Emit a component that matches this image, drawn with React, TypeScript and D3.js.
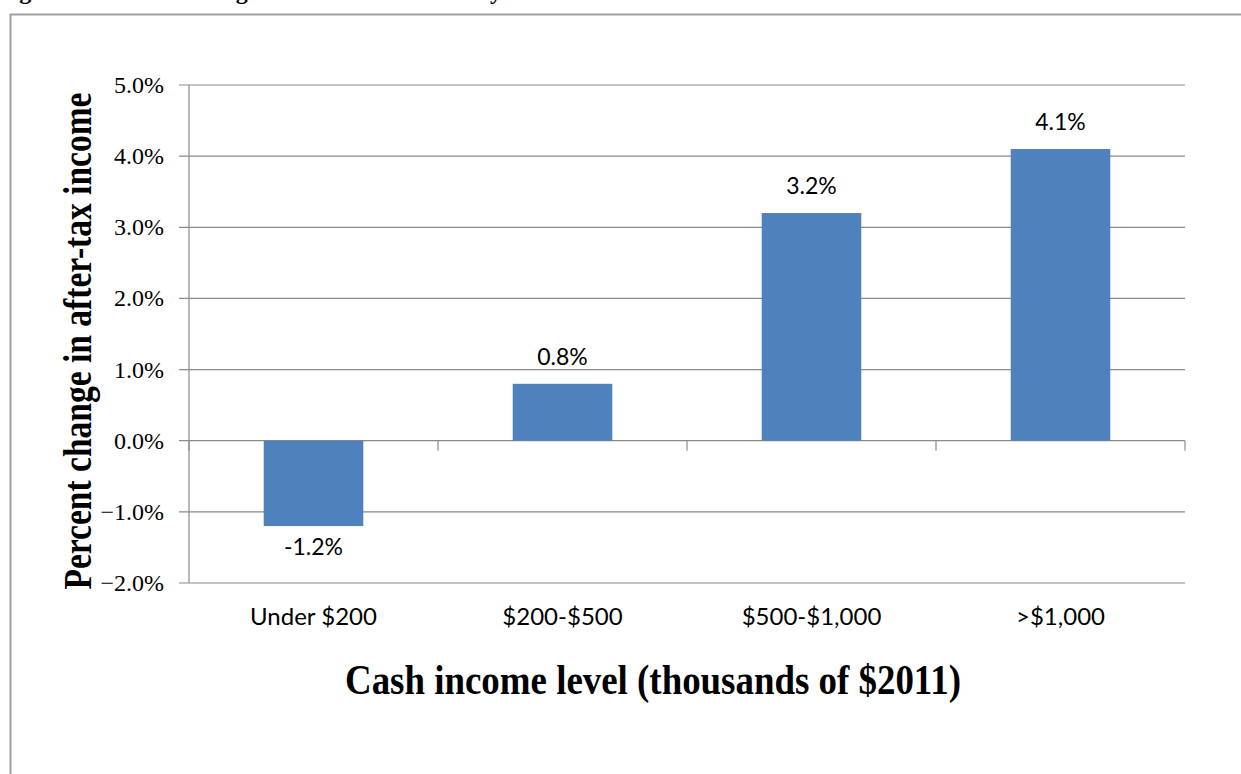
import React from "react";
import * as d3 from "d3";

const categories = ["Under $200", "$200-$500", "$500-$1,000", ">$1,000"];
const values = [-1.2, 0.8, 3.2, 4.1];
const valueLabels = ["-1.2%", "0.8%", "3.2%", "4.1%"];
const yTicks = [-2, -1, 0, 1, 2, 3, 4, 5];
const titleText = "Figure 1. Percent Change in After-Tax Income by Cash Income Level";
const yAxisTitle = "Percent change in after-tax income";
const xAxisTitle = "Cash income level (thousands of $2011)";

const W = 1241;
const H = 774;
const plotLeft = 189;
const plotRight = 1185;
const plotTop = 85;
const plotBottom = 583;

export default function App() {
  const x = d3
    .scaleBand<string>()
    .domain(categories)
    .range([plotLeft, plotRight])
    .paddingInner(0.6)
    .paddingOuter(0.3);
  const y = d3.scaleLinear().domain([-2, 5]).range([plotBottom, plotTop]);
  const step = x.step();
  const y0 = y(0);
  const boundaries = d3.range(categories.length + 1).map((i) => plotLeft + i * step);
  const grid = "#8a8a8a";

  return (
    <svg
      width={W}
      height={H}
      viewBox={`0 0 ${W} ${H}`}
      style={{ position: "absolute", left: 0, top: 0, background: "#fff" }}
    >
      <rect x={0} y={0} width={W} height={H} fill="#fff" />
      <text
        x={-2}
        y={-1}
        fontFamily="'Liberation Serif', serif"
        fontWeight="bold"
        fontSize={24}
        fill="#000"
      >
        {titleText}
      </text>
      <rect x={10.5} y={14.5} width={1400} height={1000} fill="none" stroke="#a0a0a0" strokeWidth={2} />

      {/* gridlines */}
      {yTicks.map((t) => (
        <line key={"g" + t} x1={plotLeft - 10} x2={plotRight} y1={y(t)} y2={y(t)} stroke={grid} strokeWidth={1.2} />
      ))}
      {/* y axis */}
      <line x1={plotLeft} x2={plotLeft} y1={plotTop} y2={plotBottom} stroke={grid} strokeWidth={1.2} />
      {/* x tick marks at category boundaries */}
      {boundaries.map((bx, i) => (
        <line key={"xt" + i} x1={bx} x2={bx} y1={y0} y2={y0 + 10} stroke={grid} strokeWidth={1.2} />
      ))}

      {/* y tick labels */}
      {yTicks.map((t) => (
        <text
          key={"yl" + t}
          x={164}
          y={y(t) + 8}
          textAnchor="end"
          fontFamily="'Liberation Serif', serif"
          fontSize={24}
          fill="#000"
        >
          {d3.format(".1f")(t) + "%"}
        </text>
      ))}

      {/* bars */}
      {categories.map((c, i) => {
        const v = values[i];
        const top = y(Math.max(0, v));
        const bottom = y(Math.min(0, v));
        return (
          <rect key={"b" + c} x={x(c)} y={top} width={x.bandwidth()} height={bottom - top} fill="#4F81BD" />
        );
      })}

      {/* data labels */}
      {categories.map((c, i) => {
        const v = values[i];
        const cx = (x(c) as number) + x.bandwidth() / 2;
        const ly = v >= 0 ? y(v) - 19 : y(v) + 29;
        return (
          <text
            key={"dl" + c}
            x={cx}
            y={ly}
            textAnchor="middle"
            fontFamily="Lato, 'Open Sans', sans-serif"
            fontSize={23}
            fill="#000"
          >
            {valueLabels[i]}
          </text>
        );
      })}

      {/* category labels */}
      {categories.map((c) => (
        <text
          key={"cl" + c}
          x={(x(c) as number) + x.bandwidth() / 2}
          y={625}
          textAnchor="middle"
          fontFamily="Lato, 'Open Sans', sans-serif"
          fontSize={24}
          fill="#000"
        >
          {c}
        </text>
      ))}

      {/* axis titles */}
      <text
        transform={`translate(91, 341) rotate(-90)`}
        textAnchor="middle"
        fontFamily="'Liberation Serif', serif"
        fontWeight="bold"
        fontSize={41}
        textLength={497}
        lengthAdjust="spacingAndGlyphs"
        fill="#000"
      >
        {yAxisTitle}
      </text>
      <text
        x={653}
        y={694}
        textAnchor="middle"
        fontFamily="'Liberation Serif', serif"
        fontWeight="bold"
        fontSize={43}
        textLength={616}
        lengthAdjust="spacingAndGlyphs"
        fill="#000"
      >
        {xAxisTitle}
      </text>
    </svg>
  );
}
